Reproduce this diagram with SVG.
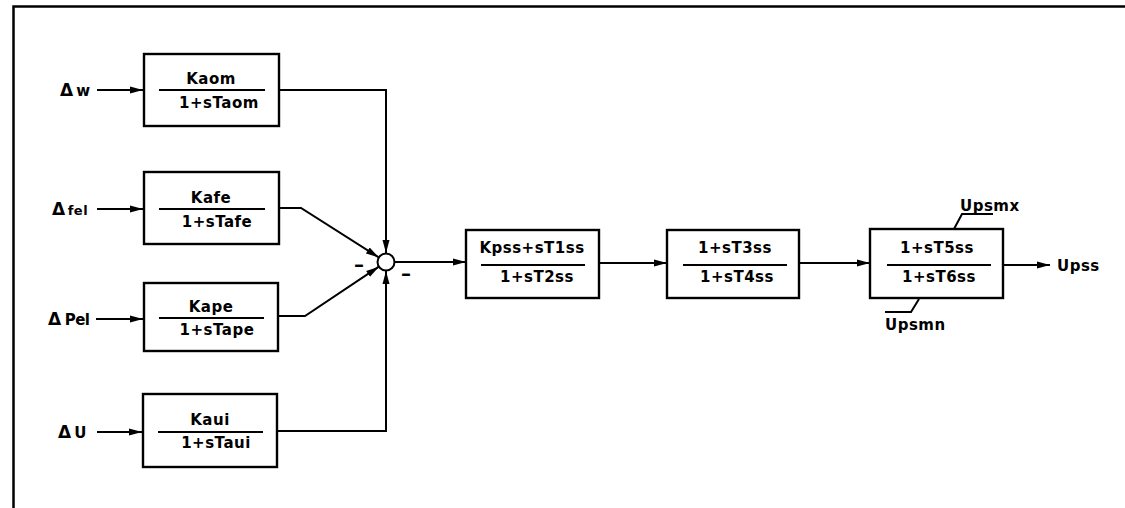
<svg xmlns="http://www.w3.org/2000/svg" width="1125" height="508" viewBox="0 0 1125 508">
<defs>
<style>
.box{fill:#fff;stroke:#000;stroke-width:2.4}
.frac{stroke:#000;stroke-width:2}
.t{font-family:"DejaVu Sans","Liberation Sans",sans-serif;font-weight:bold;font-size:15px;fill:#000;letter-spacing:0.5px}
.c{text-anchor:middle}
.w{fill:none;stroke:#000;stroke-width:2}
.m{font-family:"DejaVu Sans","Liberation Sans",sans-serif;font-weight:bold;font-size:20px;fill:#000;text-anchor:middle}
</style>
<marker id="ah" markerUnits="userSpaceOnUse" markerWidth="13" markerHeight="8" refX="13" refY="4" orient="auto">
<path d="M0,0.5 L13,4 L0,7.5 z" fill="#000"/>
</marker>
</defs>
<rect width="1125" height="508" fill="#fff"/>
<path d="M13.5 508 V6.5 H1125" fill="none" stroke="#000" stroke-width="2.5"/>

<g id="labels">
<text class="t" x="60" y="96" style="letter-spacing:3px"><tspan font-size="17">Δ</tspan>w</text>
<text class="t" x="52" y="215"><tspan font-size="17">Δ</tspan><tspan font-size="13" dx="2">fel</tspan></text>
<text class="t" x="48" y="325"><tspan font-size="17">Δ</tspan><tspan dx="3" style="letter-spacing:-0.5px">Pel</tspan></text>
<text class="t" x="58" y="438" style="letter-spacing:3px"><tspan font-size="17">Δ</tspan>U</text>
<text class="t" x="1057" y="271">Upss</text>
</g>

<g id="b1">
<rect class="box" x="144" y="54" width="135" height="72"/>
<line class="frac" x1="159" y1="90" x2="265" y2="90"/>
<text class="t c" x="211" y="84">Kaom</text>
<text class="t c" x="219" y="108">1+sTaom</text>
</g>
<g id="b2">
<rect class="box" x="144" y="172" width="135" height="72"/>
<line class="frac" x1="159" y1="209" x2="265" y2="209"/>
<text class="t c" x="211" y="203">Kafe</text>
<text class="t c" x="217" y="227">1+sTafe</text>
</g>
<g id="b3">
<rect class="box" x="144" y="283" width="134" height="68"/>
<line class="frac" x1="159" y1="318" x2="264" y2="318"/>
<text class="t c" x="211" y="312">Kape</text>
<text class="t c" x="217" y="335">1+sTape</text>
</g>
<g id="b4">
<rect class="box" x="143" y="394" width="134" height="73"/>
<line class="frac" x1="158" y1="432" x2="263" y2="432"/>
<text class="t c" x="210" y="425">Kaui</text>
<text class="t c" x="216" y="448">1+sTaui</text>
</g>
<g id="sum">
<circle cx="386" cy="262" r="8.5" fill="#fff" stroke="#000" stroke-width="2"/>
<text class="m" x="359" y="271">–</text>
<text class="m" x="406" y="280">–</text>
</g>
<g id="b5">
<rect class="box" x="466" y="230" width="133" height="68"/>
<line class="frac" x1="481" y1="265" x2="585" y2="265"/>
<text class="t c" x="532" y="253">Kpss+sT1ss</text>
<text class="t c" x="537" y="282">1+sT2ss</text>
</g>
<g id="b6">
<rect class="box" x="667" y="230" width="132" height="68"/>
<line class="frac" x1="683" y1="265" x2="787" y2="265"/>
<text class="t c" x="735" y="253">1+sT3ss</text>
<text class="t c" x="737" y="282">1+sT4ss</text>
</g>
<g id="b7">
<rect class="box" x="870" y="229" width="133" height="69"/>
<line class="frac" x1="887" y1="265" x2="991" y2="265"/>
<text class="t c" x="937" y="253">1+sT5ss</text>
<text class="t c" x="939" y="282">1+sT6ss</text>
<text class="t" x="960" y="211">Upsmx</text>
<path class="w" d="M954 229 L962 214 H993" stroke-width="1.6"/>
<text class="t" x="885" y="330">Upsmn</text>
<path class="w" d="M919 299 L911 312 H885" stroke-width="1.6"/>
</g>

<g id="connectors">
<path class="w" d="M97 90 H143" marker-end="url(#ah)"/>
<path class="w" d="M97 209 H143" marker-end="url(#ah)"/>
<path class="w" d="M96 319 H143" stroke-width="3" marker-end="url(#ah)"/>
<path class="w" d="M97 432 H142" marker-end="url(#ah)"/>
<path class="w" d="M279 90 H386 V253" marker-end="url(#ah)"/>
<path class="w" d="M279 208 H301 L378.8 257.4" marker-end="url(#ah)"/>
<path class="w" d="M278 316 H305 L378.9 266.7" marker-end="url(#ah)"/>
<path class="w" d="M277 431 H386 V271" marker-end="url(#ah)"/>
<path class="w" d="M395 262 H466" marker-end="url(#ah)"/>
<path class="w" d="M599 263 H667" marker-end="url(#ah)"/>
<path class="w" d="M799 263 H870" marker-end="url(#ah)"/>
<path class="w" d="M1003 265 H1050" marker-end="url(#ah)"/>
</g>
</svg>
